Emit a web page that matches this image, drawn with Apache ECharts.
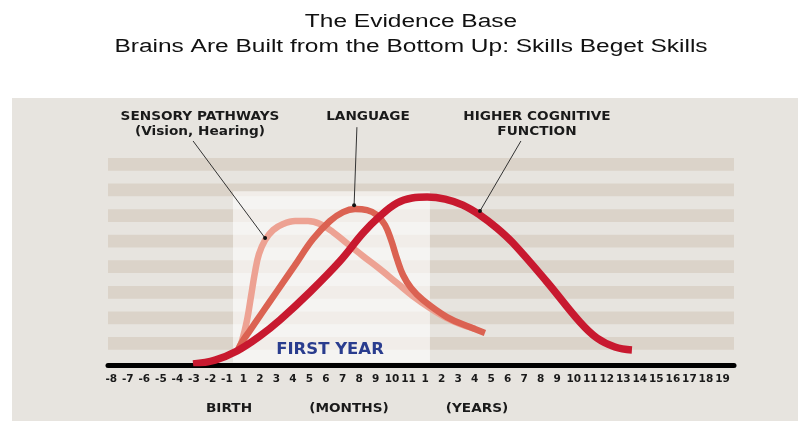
<!DOCTYPE html>
<html>
<head>
<meta charset="utf-8">
<title>Brains Are Built from the Bottom Up</title>
<script src="https://cdn.jsdelivr.net/npm/echarts@6/dist/echarts.min.js"></script>
<style>
  html, body { margin: 0; padding: 0; background: #fff; }
  #chart { width: 798px; height: 421px; }
</style>
</head>
<body>
<div id="chart"></div>
<script>
// x is the position of a tick label (0 = "-8" ... 37 = "19"), y is in stripe units
const tickLabels = [
  '-8', '-7', '-6', '-5', '-4', '-3', '-2', '-1',
  '1', '2', '3', '4', '5', '6', '7', '8', '9', '10', '11',
  '1', '2', '3', '4', '5', '6', '7', '8', '9', '10', '11', '12', '13', '14', '15', '16', '17', '18', '19'
]

const sensory = [
  [7.67, 0.91], [7.91, 1.69], [8.22, 3.33], [8.46, 5.2], [8.70, 7.08], [8.94, 8.49],
  [9.31, 9.58], [9.8, 10.37], [10.4, 10.84], [11.13, 11.07], [11.91, 11.07], [12.64, 10.84],
  [13.42, 10.21], [14.32, 9.27], [15.24, 8.33], [16.27, 7.31], [17.3, 6.22], [18.26, 5.2],
  [19.29, 4.27], [20.2, 3.56], [21.11, 3.02], [22.02, 2.63]
]

const language = [
  [7.61, 0.83], [7.91, 1.6], [8.4, 2.52], [9.12, 3.88], [10.03, 5.58], [11.06, 7.5],
  [12.21, 9.66], [13.24, 11.07], [14.03, 11.77], [14.76, 12.01], [15.48, 11.93], [16.08, 11.54],
  [16.57, 10.76], [16.94, 9.59], [17.3, 8.1], [17.66, 6.85], [18.15, 5.83], [18.87, 4.89],
  [20.32, 3.56], [21.71, 2.78], [22.62, 2.32]
]

const cognitive = [
  [4.95, -0.11], [6.28, 0.2], [7.61, 0.91], [9.0, 2.08], [10.21, 3.33], [12.03, 5.52],
  [13.85, 7.94], [15.24, 10.13], [16.27, 11.46], [17.3, 12.48], [18.21, 12.87], [19.12, 12.95],
  [20.21, 12.79], [21.29, 12.32], [22.32, 11.54], [23.35, 10.52], [24.32, 9.35], [26.38, 6.3],
  [28.37, 3.17], [29.4, 1.92], [30.49, 1.22], [31.52, 0.99]
]

// leader lines: label end -> dot on the curve
const sensoryPointer = [[4.95, 17.33], [9.31, 9.74]]
const languagePointer = [[14.87, 18.41], [14.7, 12.3]]
const cognitivePointer = [[24.8, 17.33], [22.32, 11.85]]

// first year band: from birth to 1 year
const firstYear = [7.37, 19.29]
const firstYearTop = 13.4

const chart = echarts.init(document.getElementById('chart'))

const curve = (name, data, color, width, z) => ({
  name,
  type: 'line',
  data,
  smooth: 0.4,
  symbol: 'none',
  silent: true,
  z,
  lineStyle: { color, width, cap: 'butt' }
})

const pointer = (data) => ({
  type: 'line',
  data: [
    { value: data[0], symbol: 'none' },
    { value: data[1], symbol: 'circle', symbolSize: 4 }
  ],
  clip: false,
  silent: true,
  z: 6,
  lineStyle: { color: '#333', width: 1 },
  itemStyle: { color: '#111' }
})

const bold = 'bold 13px "DejaVu Sans"'
const label = (text, x, y, font, fill, sx) => ({
  type: 'text',
  x, y,
  scaleX: sx || 1,
  z: 100,
  style: { text, font: font || bold, fill: fill || '#1a1a1a', align: 'center', verticalAlign: 'middle' }
})

chart.setOption({
  animation: false,
  backgroundColor: '#e7e4df',
  grid: { left: 108, right: 64, top: 158, bottom: 58.4 },
  xAxis: {
    type: 'value',
    min: -0.2,
    max: 37.7,
    offset: 2.4,
    axisLine: { show: true, onZero: false, lineStyle: { color: '#000', width: 5 } },
    axisTick: { show: false },
    splitLine: { show: false },
    axisLabel: {
      customValues: tickLabels.map((_, i) => i),
      formatter: v => tickLabels[Math.round(v)],
      fontFamily: 'DejaVu Sans',
      fontWeight: 'bold',
      fontSize: 10.5,
      color: '#1a1a1a',
      margin: 9
    }
  },
  yAxis: {
    type: 'value',
    min: 0,
    max: 16,
    interval: 1,
    axisLine: { show: false },
    axisTick: { show: false },
    axisLabel: { show: false },
    splitLine: { show: false },
    splitArea: { show: true, areaStyle: { color: ['rgba(0,0,0,0)', '#dbd3c9'] } }
  },
  series: [
    {
      type: 'line',
      data: [],
      z: 1,
      markArea: {
        silent: true,
        itemStyle: { color: 'rgba(255,255,255,0.6)' },
        data: [[{ xAxis: firstYear[0], yAxis: 0 }, { xAxis: firstYear[1], yAxis: firstYearTop }]]
      }
    },
    curve('Sensory pathways', sensory, '#eda293', 6.5, 2),
    curve('Language', language, '#db6252', 6.5, 3),
    curve('Higher cognitive function', cognitive, '#c8192f', 7.5, 4),
    pointer(sensoryPointer),
    pointer(languagePointer),
    pointer(cognitivePointer)
  ],
  graphic: [
    { type: 'rect', shape: { x: 0, y: 0, width: 798, height: 98 }, style: { fill: '#fff' }, z: 50 },
    { type: 'rect', shape: { x: 0, y: 98, width: 12, height: 323 }, style: { fill: '#fff' }, z: 50 },
    label('The Evidence Base', 411, 22, '18px "Liberation Sans"', '#111', 1.36),
    label('Brains Are Built from the Bottom Up: Skills Beget Skills', 411, 47, '18px "Liberation Sans"', '#111', 1.36),
    label('SENSORY PATHWAYS', 200, 117, null, null, 1.05),
    label('(Vision, Hearing)', 200, 132, null, null, 1.05),
    label('LANGUAGE', 368, 117, null, null, 1.05),
    label('HIGHER COGNITIVE', 537, 117, null, null, 1.05),
    label('FUNCTION', 537, 132, null, null, 1.05),
    label('FIRST YEAR', 330, 350, 'bold 15px "DejaVu Sans"', '#293c8e', 1.1),
    label('BIRTH', 229, 409, null, null, 1.05),
    label('(MONTHS)', 349, 409, null, null, 1.05),
    label('(YEARS)', 477, 409, null, null, 1.05)
  ]
})
</script>
</body>
</html>
